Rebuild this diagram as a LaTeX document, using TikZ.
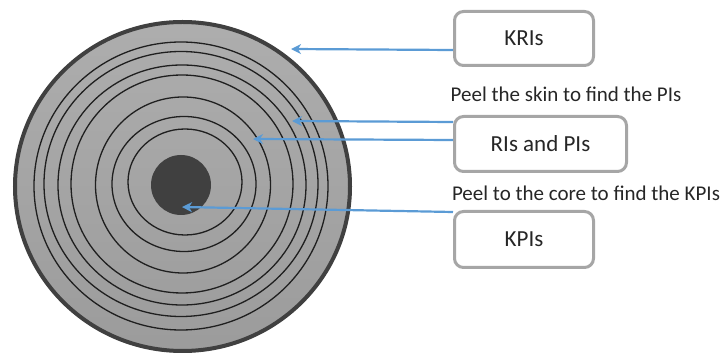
\documentclass[tikz,border=0pt]{standalone}
\usepackage{fontspec}
\setmainfont{Carlito}
\usetikzlibrary{arrows.meta}
\definecolor{arrowblue}{HTML}{5B9BD5}
\definecolor{boxgray}{HTML}{A6A6A6}
\definecolor{rimgray}{HTML}{404040}
\definecolor{txtgray}{HTML}{262626}
\tikzset{
  infobox/.style={draw=boxgray, line width=3pt, rounded corners=9pt, fill=white,
    minimum height=54pt, text=txtgray, font=\fontsize{23}{27}\selectfont, inner sep=0pt},
  caption/.style={text=txtgray, font=\fontsize{21}{25}\selectfont, inner sep=0pt},
  ring/.style={draw=black!88, line width=1.3pt},
  pointer/.style={draw=arrowblue, line width=2.2pt, -{Stealth[length=10pt,width=10pt,inset=3pt]}}
}
\begin{document}
\begin{tikzpicture}[x=1pt,y=1pt]
\useasboundingbox (0,0) rectangle (726,-355);
% disc
\shade[top color=black!32, bottom color=black!39] (182.5,-186.5) ellipse [x radius=169, y radius=166];
\draw[draw=rimgray, line width=4pt] (182.5,-186.5) ellipse [x radius=167.5, y radius=164.5];
\draw[ring] (185,-182) ellipse [x radius=57, y radius=53];
\draw[ring] (184,-184) ellipse [x radius=72, y radius=67.5];
\draw[ring] (183,-185) ellipse [x radius=87.5, y radius=88];
\draw[ring] (182,-184) ellipse [x radius=111, y radius=109];
\draw[ring] (182,-185) ellipse [x radius=124, y radius=120];
\draw[ring] (181,-184) ellipse [x radius=137, y radius=132.5];
\draw[ring] (181,-186) ellipse [x radius=147, y radius=144];
\fill[rimgray] (181,-185) circle (30);
% targets
\coordinate (tkri) at (291,-49);
\coordinate (tpi) at (292,-121);
\coordinate (tri) at (253,-139);
\coordinate (tkpi) at (182,-207);
% boxes
\node[infobox, minimum width=139pt, minimum height=54pt] (kri) at (524,-38.5) {KRIs};
\node[infobox, minimum width=172pt, minimum height=55pt] (ris) at (540.5,-144) {RIs and PIs};
\node[infobox, minimum width=139pt, minimum height=56pt] (kpi) at (524,-239.5) {KPIs};
% captions
\node[caption] (c1) at (566,-94) {Peel the skin to find the PIs};
\node[caption] (c2) at (586,-193.5) {Peel to the core to find the KPIs};
% arrows
\draw[pointer] ([yshift=-11.5pt]kri.west) -- (tkri);
\draw[pointer] ([yshift=22pt]ris.west) -- (tpi);
\draw[pointer] ([yshift=4pt]ris.west) -- (tri);
\draw[pointer] ([yshift=27.5pt]kpi.west) -- (tkpi);
\end{tikzpicture}
\end{document}
